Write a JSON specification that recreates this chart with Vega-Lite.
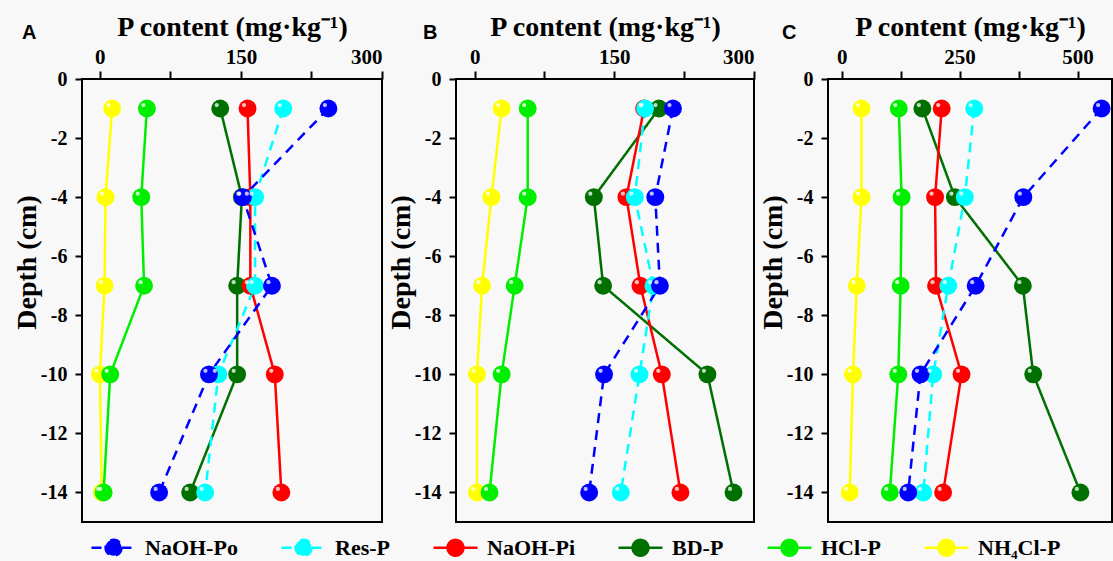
{
  "$schema": "https://vega.github.io/schema/vega-lite/v6.json",
  "background": "#f8f8f8",
  "padding": {"left": 12, "top": 12, "right": 0, "bottom": 0},
  "bounds": "flush",
  "spacing": 74,
  "datasets": {
    "d": [
      {"panel": "A", "series": "NH₄Cl-P", "depth": -1, "value": 13},
      {"panel": "A", "series": "NH₄Cl-P", "depth": -4, "value": 6},
      {"panel": "A", "series": "NH₄Cl-P", "depth": -7, "value": 5},
      {"panel": "A", "series": "NH₄Cl-P", "depth": -10, "value": 0},
      {"panel": "A", "series": "NH₄Cl-P", "depth": -14, "value": 2},
      {"panel": "A", "series": "HCl-P", "depth": -1, "value": 50},
      {"panel": "A", "series": "HCl-P", "depth": -4, "value": 44},
      {"panel": "A", "series": "HCl-P", "depth": -7, "value": 47},
      {"panel": "A", "series": "HCl-P", "depth": -10, "value": 11},
      {"panel": "A", "series": "HCl-P", "depth": -14, "value": 4},
      {"panel": "A", "series": "BD-P", "depth": -1, "value": 128},
      {"panel": "A", "series": "BD-P", "depth": -4, "value": 151},
      {"panel": "A", "series": "BD-P", "depth": -7, "value": 146},
      {"panel": "A", "series": "BD-P", "depth": -10, "value": 146},
      {"panel": "A", "series": "BD-P", "depth": -14, "value": 96},
      {"panel": "A", "series": "NaOH-Pi", "depth": -1, "value": 157},
      {"panel": "A", "series": "NaOH-Pi", "depth": -4, "value": 160},
      {"panel": "A", "series": "NaOH-Pi", "depth": -7, "value": 160},
      {"panel": "A", "series": "NaOH-Pi", "depth": -10, "value": 186},
      {"panel": "A", "series": "NaOH-Pi", "depth": -14, "value": 193},
      {"panel": "A", "series": "Res-P", "depth": -1, "value": 195},
      {"panel": "A", "series": "Res-P", "depth": -4, "value": 165},
      {"panel": "A", "series": "Res-P", "depth": -7, "value": 165},
      {"panel": "A", "series": "Res-P", "depth": -10, "value": 126},
      {"panel": "A", "series": "Res-P", "depth": -14, "value": 112},
      {"panel": "A", "series": "NaOH-Po", "depth": -1, "value": 243},
      {"panel": "A", "series": "NaOH-Po", "depth": -4, "value": 152},
      {"panel": "A", "series": "NaOH-Po", "depth": -7, "value": 183},
      {"panel": "A", "series": "NaOH-Po", "depth": -10, "value": 116},
      {"panel": "A", "series": "NaOH-Po", "depth": -14, "value": 63},

      {"panel": "B", "series": "NH₄Cl-P", "depth": -1, "value": 29},
      {"panel": "B", "series": "NH₄Cl-P", "depth": -4, "value": 18},
      {"panel": "B", "series": "NH₄Cl-P", "depth": -7, "value": 8},
      {"panel": "B", "series": "NH₄Cl-P", "depth": -10, "value": 2.5},
      {"panel": "B", "series": "NH₄Cl-P", "depth": -14, "value": 2.5},
      {"panel": "B", "series": "HCl-P", "depth": -1, "value": 57},
      {"panel": "B", "series": "HCl-P", "depth": -4, "value": 57},
      {"panel": "B", "series": "HCl-P", "depth": -7, "value": 43},
      {"panel": "B", "series": "HCl-P", "depth": -10, "value": 29},
      {"panel": "B", "series": "HCl-P", "depth": -14, "value": 16},
      {"panel": "B", "series": "BD-P", "depth": -1, "value": 198},
      {"panel": "B", "series": "BD-P", "depth": -4, "value": 128},
      {"panel": "B", "series": "BD-P", "depth": -7, "value": 138},
      {"panel": "B", "series": "BD-P", "depth": -10, "value": 250},
      {"panel": "B", "series": "BD-P", "depth": -14, "value": 278},
      {"panel": "B", "series": "NaOH-Pi", "depth": -1, "value": 182},
      {"panel": "B", "series": "NaOH-Pi", "depth": -4, "value": 163},
      {"panel": "B", "series": "NaOH-Pi", "depth": -7, "value": 178},
      {"panel": "B", "series": "NaOH-Pi", "depth": -10, "value": 201},
      {"panel": "B", "series": "NaOH-Pi", "depth": -14, "value": 221},
      {"panel": "B", "series": "Res-P", "depth": -1, "value": 183},
      {"panel": "B", "series": "Res-P", "depth": -4, "value": 172},
      {"panel": "B", "series": "Res-P", "depth": -7, "value": 192},
      {"panel": "B", "series": "Res-P", "depth": -10, "value": 177},
      {"panel": "B", "series": "Res-P", "depth": -14, "value": 157},
      {"panel": "B", "series": "NaOH-Po", "depth": -1, "value": 213},
      {"panel": "B", "series": "NaOH-Po", "depth": -4, "value": 194},
      {"panel": "B", "series": "NaOH-Po", "depth": -7, "value": 199},
      {"panel": "B", "series": "NaOH-Po", "depth": -10, "value": 139},
      {"panel": "B", "series": "NaOH-Po", "depth": -14, "value": 123},

      {"panel": "C", "series": "NH₄Cl-P", "depth": -1, "value": 42},
      {"panel": "C", "series": "NH₄Cl-P", "depth": -4, "value": 42},
      {"panel": "C", "series": "NH₄Cl-P", "depth": -7, "value": 32},
      {"panel": "C", "series": "NH₄Cl-P", "depth": -10, "value": 24},
      {"panel": "C", "series": "NH₄Cl-P", "depth": -14, "value": 17},
      {"panel": "C", "series": "HCl-P", "depth": -1, "value": 121},
      {"panel": "C", "series": "HCl-P", "depth": -4, "value": 127},
      {"panel": "C", "series": "HCl-P", "depth": -7, "value": 125},
      {"panel": "C", "series": "HCl-P", "depth": -10, "value": 120},
      {"panel": "C", "series": "HCl-P", "depth": -14, "value": 102},
      {"panel": "C", "series": "BD-P", "depth": -1, "value": 171},
      {"panel": "C", "series": "BD-P", "depth": -4, "value": 240},
      {"panel": "C", "series": "BD-P", "depth": -7, "value": 384},
      {"panel": "C", "series": "BD-P", "depth": -10, "value": 406},
      {"panel": "C", "series": "BD-P", "depth": -14, "value": 506},
      {"panel": "C", "series": "NaOH-Pi", "depth": -1, "value": 212},
      {"panel": "C", "series": "NaOH-Pi", "depth": -4, "value": 198},
      {"panel": "C", "series": "NaOH-Pi", "depth": -7, "value": 200},
      {"panel": "C", "series": "NaOH-Pi", "depth": -10, "value": 254},
      {"panel": "C", "series": "NaOH-Pi", "depth": -14, "value": 215},
      {"panel": "C", "series": "Res-P", "depth": -1, "value": 281},
      {"panel": "C", "series": "Res-P", "depth": -4, "value": 261},
      {"panel": "C", "series": "Res-P", "depth": -7, "value": 226},
      {"panel": "C", "series": "Res-P", "depth": -10, "value": 194},
      {"panel": "C", "series": "Res-P", "depth": -14, "value": 173},
      {"panel": "C", "series": "NaOH-Po", "depth": -1, "value": 551},
      {"panel": "C", "series": "NaOH-Po", "depth": -4, "value": 385},
      {"panel": "C", "series": "NaOH-Po", "depth": -7, "value": 284},
      {"panel": "C", "series": "NaOH-Po", "depth": -10, "value": 167},
      {"panel": "C", "series": "NaOH-Po", "depth": -14, "value": 141}
    ]
  },
  "hconcat": [
    {
      "width": 300,
      "height": 443,
      "title": {"text": "A", "anchor": "start", "frame": "group", "dx": -60},
      "data": {"name": "d"},
      "transform": [{"filter": "datum.panel === 'A'"}],
      "encoding": {
        "x": {"field": "value", "type": "quantitative", "scale": {"domain": [-19, 300], "nice": false, "zero": false},
              "axis": {"orient": "top", "values": [0, 75, 150, 225, 300], "labelExpr": "datum.value % 150 === 0 ? '' + datum.value : ''", "title": "P content (mg·kg⁻¹)"}},
        "y": {"field": "depth", "type": "quantitative", "scale": {"domain": [-15, 0], "nice": false, "zero": false},
              "axis": {"values": [0, -2, -4, -6, -8, -10, -12, -14], "labelExpr": "'' + datum.value", "title": "Depth (cm)"}},
        "color": {"field": "series", "type": "nominal",
                  "scale": {"domain": ["NaOH-Po", "Res-P", "NaOH-Pi", "BD-P", "HCl-P", "NH₄Cl-P"], "range": ["#0000ff", "#00ffff", "#ff0000", "#007000", "#00ee00", "#ffff00"]},
                  "legend": {"title": null, "encode": {"symbols": {"update": {"fill": {"scale": "color", "field": "value"}, "stroke": {"scale": "color", "field": "value"}, "strokeWidth": {"value": 2.5}, "opacity": {"value": 1}, "strokeDash": {"signal": "(datum.value === 'NaOH-Po' || datum.value === 'Res-P') ? [7, 5] : [1, 0]"}}}}}}
      },
      "layer": [
        {"mark": {"type": "line", "strokeWidth": 2.5},
         "encoding": {"order": {"field": "depth", "sort": "descending"},
                      "strokeDash": {"field": "series", "type": "nominal", "legend": null,
                                     "scale": {"domain": ["NaOH-Po", "Res-P", "NaOH-Pi", "BD-P", "HCl-P", "NH₄Cl-P"], "range": [[10, 7], [10, 7], [1, 0], [1, 0], [1, 0], [1, 0]]}}}},
        {"mark": {"type": "point", "filled": true, "size": 320, "opacity": 1}},
        {"mark": {"type": "point", "filled": true, "size": 18, "opacity": 0.75, "xOffset": -3.5, "yOffset": -3.5}, "encoding": {"color": {"value": "white"}}}
      ]
    },
    {
      "width": 298,
      "height": 443,
      "title": {"text": "B", "anchor": "start", "frame": "group", "dx": -33},
      "data": {"name": "d"},
      "transform": [{"filter": "datum.panel === 'B'"}],
      "encoding": {
        "x": {"field": "value", "type": "quantitative", "scale": {"domain": [-20, 300], "nice": false, "zero": false},
              "axis": {"orient": "top", "values": [0, 75, 150, 225, 300], "labelExpr": "datum.value % 150 === 0 ? '' + datum.value : ''", "title": "P content (mg·kg⁻¹)"}},
        "y": {"field": "depth", "type": "quantitative", "scale": {"domain": [-15, 0], "nice": false, "zero": false},
              "axis": {"values": [0, -2, -4, -6, -8, -10, -12, -14], "labelExpr": "'' + datum.value", "title": "Depth (cm)"}},
        "color": {"field": "series", "type": "nominal",
                  "scale": {"domain": ["NaOH-Po", "Res-P", "NaOH-Pi", "BD-P", "HCl-P", "NH₄Cl-P"], "range": ["#0000ff", "#00ffff", "#ff0000", "#007000", "#00ee00", "#ffff00"]},
                  "legend": {"title": null, "encode": {"symbols": {"update": {"fill": {"scale": "color", "field": "value"}, "stroke": {"scale": "color", "field": "value"}, "strokeWidth": {"value": 2.5}, "opacity": {"value": 1}, "strokeDash": {"signal": "(datum.value === 'NaOH-Po' || datum.value === 'Res-P') ? [7, 5] : [1, 0]"}}}}}}
      },
      "layer": [
        {"mark": {"type": "line", "strokeWidth": 2.5},
         "encoding": {"order": {"field": "depth", "sort": "descending"},
                      "strokeDash": {"field": "series", "type": "nominal", "legend": null,
                                     "scale": {"domain": ["NaOH-Po", "Res-P", "NaOH-Pi", "BD-P", "HCl-P", "NH₄Cl-P"], "range": [[10, 7], [10, 7], [1, 0], [1, 0], [1, 0], [1, 0]]}}}},
        {"mark": {"type": "point", "filled": true, "size": 320, "opacity": 1}},
        {"mark": {"type": "point", "filled": true, "size": 18, "opacity": 0.75, "xOffset": -3.5, "yOffset": -3.5}, "encoding": {"color": {"value": "white"}}}
      ]
    },
    {
      "width": 284,
      "height": 443,
      "title": {"text": "C", "anchor": "start", "frame": "group", "dx": -46},
      "data": {"name": "d"},
      "transform": [{"filter": "datum.panel === 'C'"}],
      "encoding": {
        "x": {"field": "value", "type": "quantitative", "scale": {"domain": [-29, 573], "nice": false, "zero": false},
              "axis": {"orient": "top", "values": [0, 125, 250, 375, 500], "labelExpr": "datum.value % 250 === 0 ? '' + datum.value : ''", "title": "P content (mg·kg⁻¹)"}},
        "y": {"field": "depth", "type": "quantitative", "scale": {"domain": [-15, 0], "nice": false, "zero": false},
              "axis": {"values": [0, -2, -4, -6, -8, -10, -12, -14], "labelExpr": "'' + datum.value", "title": "Depth (cm)"}},
        "color": {"field": "series", "type": "nominal",
                  "scale": {"domain": ["NaOH-Po", "Res-P", "NaOH-Pi", "BD-P", "HCl-P", "NH₄Cl-P"], "range": ["#0000ff", "#00ffff", "#ff0000", "#007000", "#00ee00", "#ffff00"]},
                  "legend": {"title": null, "encode": {"symbols": {"update": {"fill": {"scale": "color", "field": "value"}, "stroke": {"scale": "color", "field": "value"}, "strokeWidth": {"value": 2.5}, "opacity": {"value": 1}, "strokeDash": {"signal": "(datum.value === 'NaOH-Po' || datum.value === 'Res-P') ? [7, 5] : [1, 0]"}}}}}}
      },
      "layer": [
        {"mark": {"type": "line", "strokeWidth": 2.5},
         "encoding": {"order": {"field": "depth", "sort": "descending"},
                      "strokeDash": {"field": "series", "type": "nominal", "legend": null,
                                     "scale": {"domain": ["NaOH-Po", "Res-P", "NaOH-Pi", "BD-P", "HCl-P", "NH₄Cl-P"], "range": [[10, 7], [10, 7], [1, 0], [1, 0], [1, 0], [1, 0]]}}}},
        {"mark": {"type": "point", "filled": true, "size": 320, "opacity": 1}},
        {"mark": {"type": "point", "filled": true, "size": 18, "opacity": 0.75, "xOffset": -3.5, "yOffset": -3.5}, "encoding": {"color": {"value": "white"}}}
      ]
    }
  ],
  "resolve": {"scale": {"x": "independent", "color": "shared", "strokeDash": "shared"}, "legend": {"color": "shared"}},
  "config": {
    "view": {"stroke": "black", "strokeWidth": 2},
    "title": {"font": "Liberation Sans", "fontSize": 20, "fontWeight": "bold", "color": "black", "align": "left", "offset": -30},
    "axis": {
      "domain": false, "grid": false,
      "tickColor": "black", "tickWidth": 2, "tickSize": 8,
      "labelFont": "Liberation Serif", "labelFontWeight": "bold", "labelFontSize": 21, "labelColor": "black", "labelPadding": 4,
      "titleFont": "Liberation Serif", "titleFontWeight": "bold", "titleFontSize": 28, "titleColor": "black", "titlePadding": 5
    },
    "axisY": {"labelFontSize": 20, "labelPadding": 8, "tickSize": 7, "titleX": -55, "titleY": 183, "titleAngle": -90, "titleBaseline": "middle", "titleAlign": "center"},
    "legend": {
      "orient": "none", "legendX": 8, "legendY": 445, "direction": "horizontal", "columns": 6,
      "symbolType": "M-1,0L-0.36,0M0.36,0L1,0M0.36,0A0.36,0.36,0,1,1,-0.36,0A0.36,0.36,0,1,1,0.36,0Z",
      "symbolSize": 1936, "symbolStrokeWidth": 2.5,
      "labelFont": "Liberation Serif", "labelFontSize": 22, "labelFontWeight": "bold", "labelColor": "black",
      "labelOffset": 8, "columnPadding": 38, "labelLimit": 300
    }
  }
}
